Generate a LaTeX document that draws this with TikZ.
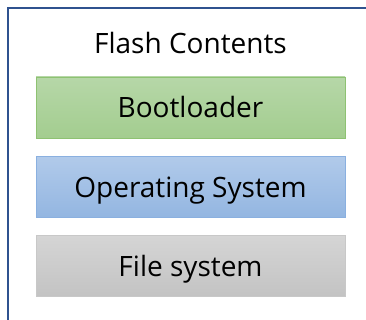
\documentclass[tikz,border=0pt]{standalone}
\usepackage{fontspec}
\setmainfont{Open Sans}
\definecolor{frameblue}{HTML}{2F528F}
\definecolor{gtop}{HTML}{B6D7A8}
\definecolor{gbot}{HTML}{A3CD8F}
\definecolor{gbrd}{HTML}{8EC272}
\definecolor{btop}{HTML}{B1CAEA}
\definecolor{bbot}{HTML}{93B6E1}
\definecolor{bbrd}{HTML}{8AB0E0}
\definecolor{ytop}{HTML}{D5D5D5}
\definecolor{ybot}{HTML}{C3C3C3}
\definecolor{ybrd}{HTML}{C8C8C8}
\tikzset{
  layer/.style={rectangle, minimum width=309pt, minimum height=61pt, inner sep=0pt,
    text height=20pt, text depth=0pt,
    line width=0.8pt, font=\fontsize{28}{32}\selectfont, text=black},
  title/.style={font=\fontsize{28}{32}\selectfont, inner sep=0pt, text=black,
    text height=20pt, text depth=0pt}
}
\begin{document}
\begin{tikzpicture}[x=1pt,y=-1pt]
\clip (0,0) rectangle (366,320);
\fill[white] (0,0) rectangle (366,320);
\draw[frameblue, line width=1.6pt] (8,8) rectangle (400,360);
\node[title] (t) at (190.5,44) {Flash Contents};
\node[layer, draw=gbrd, top color=gtop, bottom color=gbot] (boot) at (190.5,107.5) {Bootloader};
\node[layer, draw=bbrd, top color=btop, bottom color=bbot] (os) at (190.5,187) {Operating System};
\node[layer, draw=ybrd, top color=ytop, bottom color=ybot] (fs) at (190.5,266) {File system};
\end{tikzpicture}
\end{document}
